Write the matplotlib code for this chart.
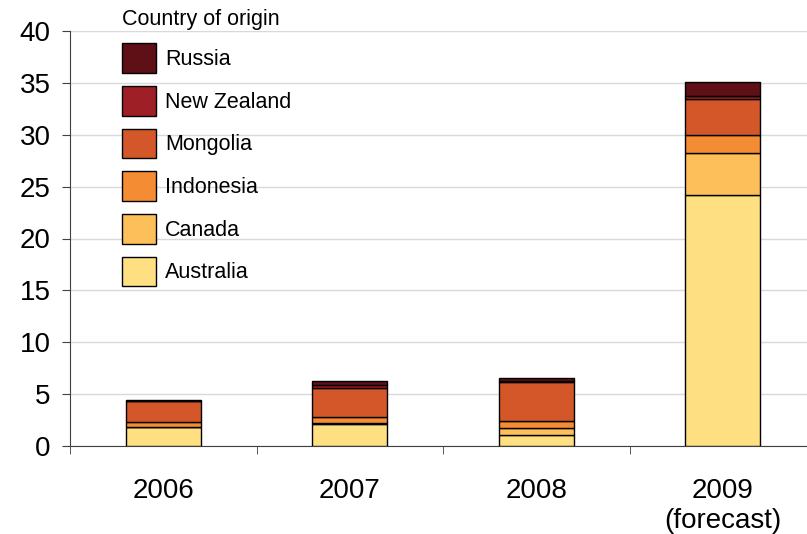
import numpy as np
import matplotlib.pyplot as plt
from matplotlib.patches import Patch

plt.rcParams['font.family'] = ['Liberation Sans', 'DejaVu Sans']

years = ['2006', '2007', '2008', '2009\n(forecast)']
countries = ['Australia', 'Canada', 'Indonesia', 'Mongolia', 'New Zealand', 'Russia']
australia = [1.8, 2.1, 1.05, 24.2]
canada = [0.05, 0.1, 0.7, 4.0]
indonesia = [0.5, 0.6, 0.65, 1.75]
mongolia = [2.0, 2.75, 3.75, 3.5]
new_zealand = [0.0, 0.35, 0.1, 0.3]
russia = [0.05, 0.4, 0.35, 1.3]
colors = ['#FEE083', '#FDBF5A', '#F48C34', '#D4572A', '#9E1F26', '#5E1016']

series = [australia, canada, indonesia, mongolia, new_zealand, russia]

fig = plt.figure(figsize=(8.07, 5.34), dpi=100)
ax = fig.add_axes([70 / 807, 88 / 534, 746 / 807, 415 / 534])

x = np.arange(len(years))
bottom = np.zeros(len(years))
for vals, c in zip(series, colors):
    ax.bar(x, vals, 0.4, bottom=bottom, color=c, edgecolor='black', linewidth=1, zorder=3)
    bottom += np.array(vals)

ax.set_xlim(-0.5, 3.5)
ax.set_ylim(0, 40)
ax.set_yticks(range(0, 41, 5))
ax.yaxis.grid(True, color='#D9D9D9', linewidth=1, zorder=0)
ax.set_xticks(x)
ax.set_xticklabels(years)
ax.set_xticks(np.arange(-0.5, 3.6, 1), minor=True)
ax.tick_params(axis='x', which='major', length=0, pad=23, labelsize=20)
ax.tick_params(axis='x', which='minor', length=6, color='#404040')
ax.tick_params(axis='y', length=6, pad=8, labelsize=20, color='#404040')
for s in ['top', 'right']:
    ax.spines[s].set_visible(False)
ax.spines['left'].set_color('#404040')
ax.spines['bottom'].set_color('#404040')

handles = [Patch(facecolor=c, edgecolor='black', linewidth=1) for c in colors][::-1]
leg = ax.legend(handles, countries[::-1], title='Country of origin', loc='upper left',
                bbox_to_anchor=(0.058, 1.073), frameon=False, fontsize=15.5,
                title_fontsize=15.5, handlelength=1.6, handleheight=1.75,
                labelspacing=0.6, handletextpad=0.4, borderaxespad=0)
leg._legend_box.align = 'left'

fig.savefig('out.png', dpi=100)
